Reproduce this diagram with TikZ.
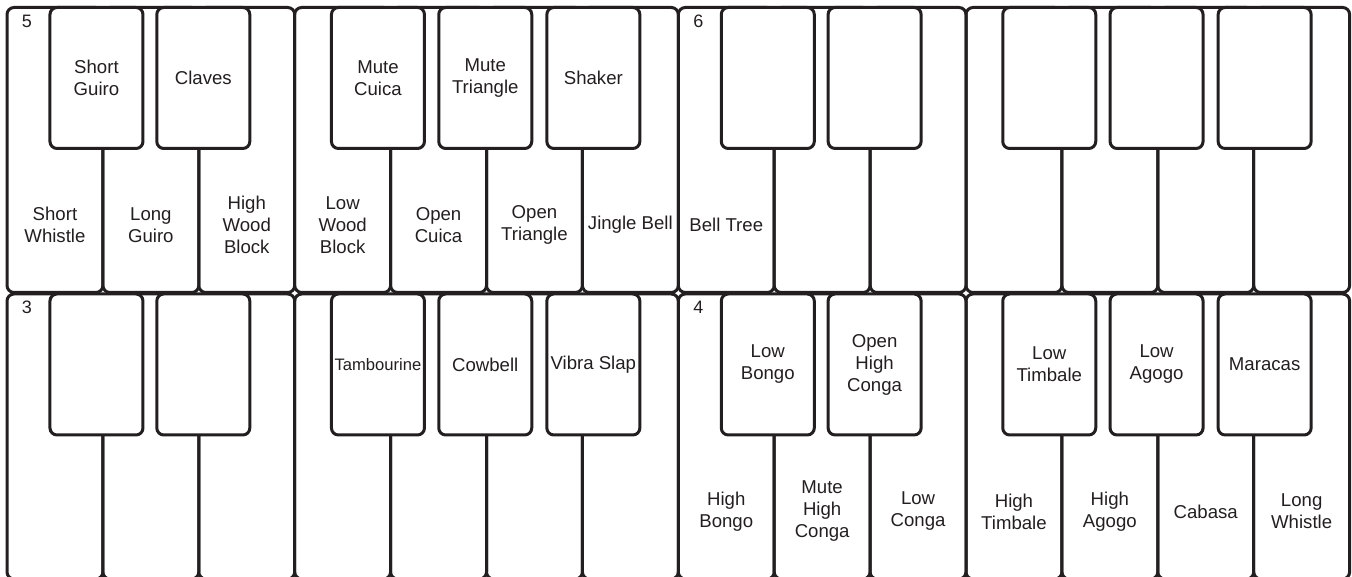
\documentclass[tikz,border=0pt]{standalone}
\usepackage{fontspec}
\setmainfont{Liberation Sans}
\definecolor{keyline}{RGB}{35,31,32}
\newcommand{\keyfont}{\fontsize{9.3}{11}\selectfont}
\tikzset{
    whitekey/.style={draw=keyline, line width=1.5pt, rounded corners=3.5pt, minimum width=47.95pt, minimum height=142.5pt, inner sep=0pt},
    blackkey/.style={whitekey, fill=white, minimum width=46.5pt, minimum height=70.5pt, align=center, text=keyline, font=\keyfont},
    keylabel/.style={align=center, text=keyline, font=\keyfont, inner sep=0pt},
    octlabel/.style={text=keyline, font=\fontsize{9}{10}\selectfont, inner sep=0pt}
}
\begin{document}
\begin{tikzpicture}[x=47.95pt, y=0.5pt]
                                    \useasboundingbox (-3.5pt,0pt) rectangle (672.5pt,288.5pt);
                                    \clip (-3.5pt,0pt) rectangle (672.5pt,288.5pt);

                                    \node[whitekey] (c5) at (0.5,427){};
                                    \node[whitekey] (d5) at (1.5,427){};
                                    \node[whitekey] (e5) at (2.5,427){};
                                    \node[whitekey] (f5) at (3.5,427){};
                                    \node[whitekey] (g5) at (4.5,427){};
                                    \node[whitekey] (a5) at (5.5,427){};
                                    \node[whitekey] (b5) at (6.5,427){};
                                    \node[whitekey] (c6) at (7.5,427){};
                                    \node[whitekey] (d6) at (8.5,427){};
                                    \node[whitekey] (e6) at (9.5,427){};
                                    \node[whitekey] (f6) at (10.5,427){};
                                    \node[whitekey] (g6) at (11.5,427){};
                                    \node[whitekey] (a6) at (12.5,427){};
                                    \node[whitekey] (b6) at (13.5,427){};

                                    \node[whitekey] (c3) at (0.5,140.5){};
                                    \node[whitekey] (d3) at (1.5,140.5){};
                                    \node[whitekey] (e3) at (2.5,140.5){};
                                    \node[whitekey] (f3) at (3.5,140.5){};
                                    \node[whitekey] (g3) at (4.5,140.5){};
                                    \node[whitekey] (a3) at (5.5,140.5){};
                                    \node[whitekey] (b3) at (6.5,140.5){};
                                    \node[whitekey] (c4) at (7.5,140.5){};
                                    \node[whitekey] (d4) at (8.5,140.5){};
                                    \node[whitekey] (e4) at (9.5,140.5){};
                                    \node[whitekey] (f4) at (10.5,140.5){};
                                    \node[whitekey] (g4) at (11.5,140.5){};
                                    \node[whitekey] (a4) at (12.5,140.5){};
                                    \node[whitekey] (b4) at (13.5,140.5){};

                                    \node[blackkey] (cis5) at (0.933,499){Short\\Guiro};
                                    \node[blackkey] (dis5) at (2.047,499){Claves};
                                    \node[blackkey] (fis5) at (3.868,499){Mute\\Cuica};
                                    \node[blackkey] (gis5) at (4.987,499){Mute\\Triangle};
                                    \node[blackkey] (ais5) at (6.114,499){Shaker};
                                    \node[blackkey] (cis6) at (7 + 0.933,499){};
                                    \node[blackkey] (dis6) at (7 + 2.047,499){};
                                    \node[blackkey] (fis6) at (7 + 3.868,499){};
                                    \node[blackkey] (gis6) at (7 + 4.987,499){};
                                    \node[blackkey] (ais6) at (7 + 6.114,499){};

                                    \node[blackkey] (cis3) at (0.933,212.5){};
                                    \node[blackkey] (dis3) at (2.047,212.5){};
                                    \node[blackkey, font=\fontsize{8.3}{10}\selectfont] (fis3) at (3.868,212.5){Tambourine};
                                    \node[blackkey] (gis3) at (4.987,212.5){Cowbell};
                                    \node[blackkey] (ais3) at (6.114,212.5){Vibra Slap};
                                    \node[blackkey] (cis4) at (7 + 0.933,212.5){Low\\Bongo};
                                    \node[blackkey] (dis4) at (7 + 2.047,212.5){Open\\High\\Conga};
                                    \node[blackkey] (fis4) at (7 + 3.868,212.5){Low\\Timbale};
                                    \node[blackkey] (gis4) at (7 + 4.987,212.5){Low\\Agogo};
                                    \node[blackkey] (ais4) at (7 + 6.114,212.5){Maracas};

                                    \node[keylabel] (lc5) at ([yshift=34.5pt]c5.south){Short\\Whistle};
                                    \node[keylabel] (ld5) at ([yshift=34.5pt]d5.south){Long\\Guiro};
                                    \node[keylabel] (le5) at ([yshift=34.5pt]e5.south){High\\Wood\\Block};
                                    \node[keylabel] (lf5) at ([yshift=34.5pt]f5.south){Low\\Wood\\Block};
                                    \node[keylabel] (lg5) at ([yshift=34.5pt]g5.south){Open\\Cuica};
                                    \node[keylabel] (la5) at ([yshift=34.5pt]a5.south){Open\\Triangle};
                                    \node[keylabel] (lb5) at ([yshift=34.5pt]b5.south){Jingle Bell};
                                    \node[keylabel] (lc6) at ([yshift=34.5pt]c6.south){Bell Tree};

                                    \node[keylabel] (lc4) at ([yshift=34.5pt]c4.south){High\\Bongo};
                                    \node[keylabel] (ld4) at ([yshift=34.5pt]d4.south){Mute\\High\\Conga};
                                    \node[keylabel] (le4) at ([yshift=34.5pt]e4.south){Low\\Conga};
                                    \node[keylabel] (lf4) at ([yshift=34.5pt]f4.south){High\\Timbale};
                                    \node[keylabel] (lg4) at ([yshift=34.5pt]g4.south){High\\Agogo};
                                    \node[keylabel] (la4) at ([yshift=34.5pt]a4.south){Cabasa};
                                    \node[keylabel] (lb4) at ([yshift=34.5pt]b4.south){Long\\Whistle};

                                    \node[octlabel] (o5) at ([xshift=10.75pt,yshift=-7.5pt]c5.north west){5};
                                    \node[octlabel] (o6) at ([xshift=10.75pt,yshift=-7.5pt]c6.north west){6};
                                    \node[octlabel] (o3) at ([xshift=10.75pt,yshift=-7.5pt]c3.north west){3};
                                    \node[octlabel] (o4) at ([xshift=10.75pt,yshift=-7.5pt]c4.north west){4};
                                \end{tikzpicture}
\end{document}
